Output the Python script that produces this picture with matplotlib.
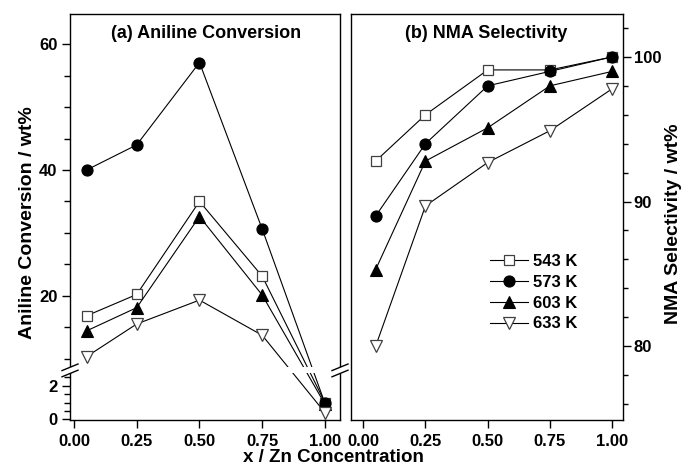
import matplotlib
matplotlib.use("Agg")
import numpy as np
import matplotlib.pyplot as plt
from matplotlib.lines import Line2D
from matplotlib.patches import Rectangle
from matplotlib.ticker import FixedLocator

plt.rcParams['font.family'] = ['Liberation Sans', 'DejaVu Sans']
plt.rcParams['font.weight'] = 'bold'
plt.rcParams['axes.linewidth'] = 1.0

# ---- data ----
x = [0.05, 0.25, 0.50, 0.75, 1.00]
labels = ['543 K', '573 K', '603 K', '633 K']
conv_543 = [16.8, 20.2, 35.0, 23.1, 1.0]
conv_573 = [40.0, 44.0, 57.1, 30.6, 0.95]
conv_603 = [14.4, 18.1, 32.6, 20.1, 0.9]
conv_633 = [10.3, 15.5, 19.3, 13.7, 0.4]
sel_543 = [92.8, 96.0, 99.1, 99.1, 100.0]
sel_573 = [89.0, 94.0, 98.0, 99.0, 100.0]
sel_603 = [85.3, 92.8, 95.1, 98.0, 99.0]
sel_633 = [80.0, 89.7, 92.7, 94.9, 97.8]
xticks = [0.00, 0.25, 0.50, 0.75, 1.00]
xticklabels = ['0.00', '0.25', '0.50', '0.75', '1.00']
conv_major = [0, 2, 20, 40, 60]
conv_minor = [0.5, 1.0, 1.5, 2.5, 10, 15, 25, 30, 35, 45, 50, 55]
sel_major = [80, 90, 100]
sel_minor = [76, 78, 82, 84, 86, 88, 92, 94, 96, 98, 102]

# axis break (broken y scale of panel a)
BRK_LO, BRK_HI = 2.73, 8.58
S_LO, S_HI, GAP = 16.8, 6.285, 6.0

def fwd(y):
    y = np.asarray(y, dtype=float)
    a = BRK_LO * S_LO
    return np.where(y <= BRK_LO, y * S_LO,
                    np.where(y <= BRK_HI, a + (y - BRK_LO) * GAP / (BRK_HI - BRK_LO),
                             a + GAP + (y - BRK_HI) * S_HI))

def inv(p):
    p = np.asarray(p, dtype=float)
    a = BRK_LO * S_LO
    return np.where(p <= a, p / S_LO,
                    np.where(p <= a + GAP, BRK_LO + (p - a) * (BRK_HI - BRK_LO) / GAP,
                             BRK_HI + (p - a - GAP) / S_HI))

styles = [
    dict(marker='s', ms=7.0, mfc='white', mec='#404040', mew=0.9),
    dict(marker='o', ms=8.0, mfc='black', mec='black', mew=0.8),
    dict(marker='^', ms=8.5, mfc='black', mec='black', mew=0.8),
    dict(marker='v', ms=8.5, mfc='white', mec='#404040', mew=0.9),
]

W, H = 681, 471
fig = plt.figure(figsize=(W / 100, H / 100), dpi=100)

def fx(px):
    return px / W

def fy(py):
    return 1 - py / H

L, R = 70, 340
ax_l = fig.add_axes([fx(L), fy(420), fx(R) - fx(L), fy(14) - fy(420)])
ax_r = fig.add_axes([fx(351), fy(420), fx(622.7) - fx(351), fy(13.5) - fy(420)])

conv = [conv_543, conv_573, conv_603, conv_633]
sel = [sel_543, sel_573, sel_603, sel_633]

ax_l.set_yscale('function', functions=(fwd, inv))
for ys, st in zip(conv, styles):
    ax_l.plot(x, ys, color='black', lw=0.8, **st)
ax_l.set_xlim(-0.016, 1.06)
ax_l.set_ylim(-0.04, 64.82)

# white band hiding the break region
band = Rectangle((-0.02, BRK_LO), 1.04, BRK_HI - BRK_LO,
                 transform=ax_l.get_yaxis_transform(), facecolor='white',
                 edgecolor='none', zorder=3, clip_on=False)
ax_l.add_patch(band)

handles = []
for ys, st, lab in zip(sel, styles, labels):
    h, = ax_r.plot(x, ys, color='black', lw=0.8, label=lab, **st)
    handles.append(h)
ax_r.set_xlim(-0.049, 1.042)
ax_r.set_ylim(74.9, 103)

# left panel ticks
ax_l.yaxis.set_major_locator(FixedLocator(conv_major))
ax_l.yaxis.set_minor_locator(FixedLocator(conv_minor))
ax_l.yaxis.set_major_formatter(matplotlib.ticker.FixedFormatter([str(v) for v in conv_major]))
ax_l.yaxis.set_minor_formatter(matplotlib.ticker.NullFormatter())
ax_l.set_xticks(xticks)
ax_l.set_xticklabels(xticklabels)
ax_l.tick_params(axis='y', which='both', direction='out', left=True, right=False, labelsize=12, pad=3)
ax_l.tick_params(axis='y', which='major', length=6, width=1)
ax_l.tick_params(axis='y', which='minor', length=4, width=1)
ax_l.tick_params(axis='x', which='major', direction='out', length=6, width=1, labelsize=12, pad=4, top=False)

# right panel ticks
ax_r.set_xticks(xticks)
ax_r.set_xticklabels(xticklabels)
ax_r.set_yticks(sel_major)
ax_r.set_yticks(sel_minor, minor=True)
ax_r.yaxis.tick_right()
ax_r.tick_params(axis='y', which='both', direction='out', left=False, right=True,
                 labelleft=False, labelright=True, labelsize=12, pad=2)
ax_r.tick_params(axis='y', which='major', length=6, width=1)
ax_r.tick_params(axis='y', which='minor', length=3.5, width=1)
ax_r.tick_params(axis='x', which='major', direction='out', length=6, width=1, labelsize=12, pad=4, top=False)

for ax in (ax_l, ax_r):
    for lab in ax.get_xticklabels() + ax.get_yticklabels():
        lab.set_fontweight('bold')

# break marks
for bx in (L, R):
    for by in (367.3, 373.5):
        fig.add_artist(Line2D([fx(bx - 8), fx(bx + 8)], [fy(by + 3.3), fy(by - 3.3)],
                              transform=fig.transFigure, color='black', lw=1.0, zorder=5))

# titles and labels
fig.text(fx(206.5), fy(33), '(a) Aniline Conversion', ha='center', va='center',
         fontsize=13, fontweight='bold')
fig.text(fx(486), fy(33), '(b) NMA Selectivity', ha='center', va='center',
         fontsize=13, fontweight='bold')
fig.text(fx(333), fy(457), 'x / Zn Concentration', ha='center', va='center',
         fontsize=13.5, fontweight='bold')
fig.text(fx(28), fy(222.5), 'Aniline Conversion / wt%', ha='center', va='center',
         rotation=90, fontsize=14, fontweight='bold')
fig.text(fx(673), fy(224), 'NMA Selectivity / wt%', ha='center', va='center',
         rotation=90, fontsize=14, fontweight='bold')

leg = ax_r.legend(handles=handles, loc='upper left', bbox_to_anchor=(fx(490), fy(254)),
                  bbox_transform=fig.transFigure, frameon=False, fontsize=12,
                  handlelength=2.3, handletextpad=0.3, labelspacing=0.35,
                  borderpad=0, borderaxespad=0)
for t in leg.get_texts():
    t.set_fontweight('bold')

fig.savefig('out.png', dpi=100)
